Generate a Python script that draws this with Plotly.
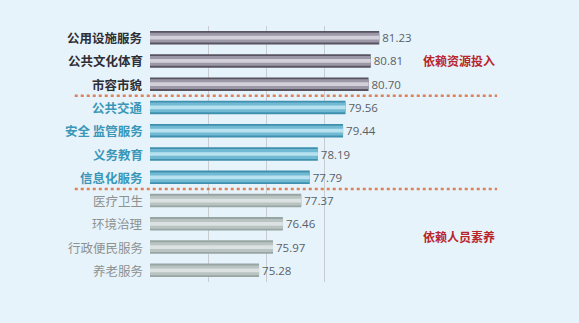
import plotly.graph_objects as go

categories = ["公用设施服务", "公共文化体育", "市容市貌", "公共交通", "安全 监管服务",
              "义务教育", "信息化服务", "医疗卫生", "环境治理", "行政便民服务", "养老服务"]
values = [81.23, 80.81, 80.70, 79.56, 79.44, 78.19, 77.79, 77.37, 76.46, 75.97, 75.28]
groups = [0, 0, 0, 1, 1, 1, 1, 2, 2, 2, 2]
group_notes = ["依赖资源投入", "依赖人员素养"]
value_labels = [f"{v:.2f}" for v in values]

edge_col = ["#57535f", "#3f8fae", "#97a5a3"]
mid_col = ["#9d98a8", "#72bad3", "#b9c4c2"]
hi_col = ["#d4d0da", "#b8e2f0", "#dbe2e1"]
label_col = ["#2e2e35", "#3a97b8", "#8d9290"]

F = "Noto Sans CJK SC"
X0 = 69.88
fig = go.Figure()
fig.add_trace(go.Bar(y=categories, x=values, orientation="h", width=0.58,
                     marker=dict(color=[edge_col[g] for g in groups], line=dict(width=0)),
                     text=value_labels, textposition="outside", cliponaxis=False,
                     constraintext="none",
                     textfont=dict(family="Open Sans", size=11.5, color="#5a5f66"), hoverinfo="skip"))
fig.add_trace(go.Bar(y=categories, x=values, orientation="h", width=0.42,
                     marker=dict(color=[mid_col[g] for g in groups], line=dict(width=0)),
                     hoverinfo="skip"))
fig.add_trace(go.Bar(y=categories, x=values, orientation="h", width=0.16,
                     marker=dict(color=[hi_col[g] for g in groups], line=dict(width=0)),
                     hoverinfo="skip"))

for c, g in zip(categories, groups):
    txt = c if g == 2 else f"<b>{c}</b>"
    fig.add_annotation(x=0, xref="paper", y=c, yref="y", text=txt, showarrow=False,
                       xanchor="right", xshift=-5,
                       font=dict(family=F, size=12.5, color=label_col[g]))

for note, yy in zip(group_notes, [1, 8.55]):
    fig.add_annotation(x=0.89, xref="paper", y=yy, yref="y", text=f"<b>{note}</b>",
                       showarrow=False, xanchor="right",
                       font=dict(family=F, size=12, color="#b8262b"))

for yy in [2.5, 6.5]:
    fig.add_shape(type="line", xref="paper", yref="y", x0=-0.193, x1=0.89, y0=yy, y1=yy,
                  line=dict(color="#d9825c", width=2.5, dash="dot"))

fig.update_layout(
    width=579, height=323, barmode="overlay", showlegend=False,
    margin=dict(l=150, r=39, t=26, b=41),
    paper_bgcolor="#e7f3fb", plot_bgcolor="#e7f3fb",
    xaxis=dict(range=[X0, X0 + 389.5 / 20.17], showticklabels=False, zeroline=False,
               showgrid=True, gridcolor="#c9cdd1", gridwidth=1,
               tickvals=[72.78, 75.66, 78.53], ticks=""),
    yaxis=dict(autorange="reversed", showticklabels=False, showgrid=False, ticks=""),
)
fig.write_html("out.html")
